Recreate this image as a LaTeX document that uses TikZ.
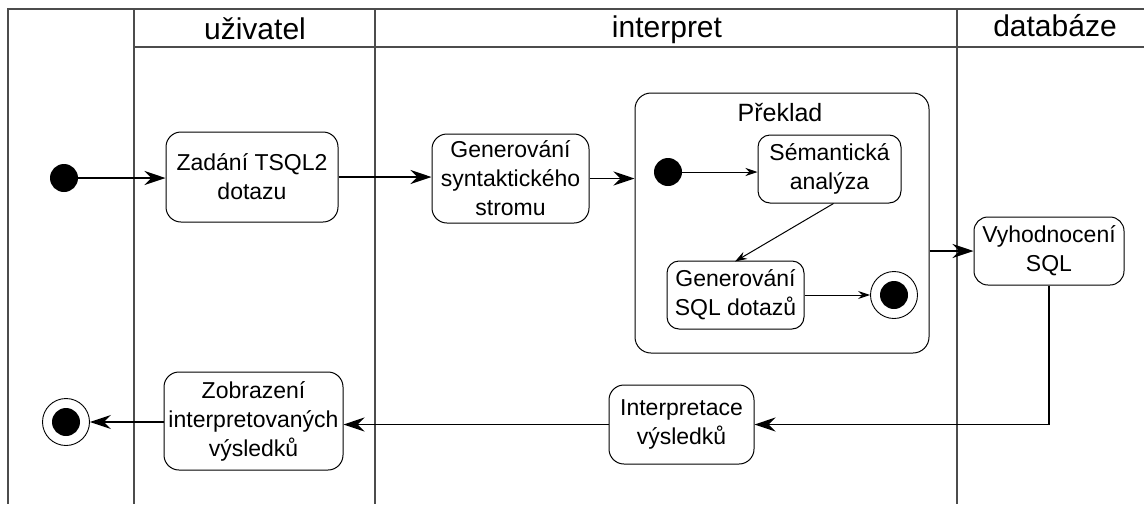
\documentclass[tikz,border=0pt]{standalone}
\usepackage{fontspec}
\setmainfont{Liberation Sans}
\usetikzlibrary{arrows.meta}
\begin{document}
\begin{tikzpicture}[x=1pt,y=-1pt,
  lane/.style={draw=black!70,line width=1.1pt},
  act/.style={draw,line width=1pt,rounded corners=15pt,align=center,inner sep=0pt,
    font=\fontsize{23}{29}\selectfont},
  inact/.style={act,rounded corners=12pt},
  hdr/.style={anchor=base,font=\fontsize{30}{30}\selectfont,inner sep=0pt},
  startdot/.style={circle,fill=black,minimum size=28pt,inner sep=0pt},
  enddot/.style={circle,draw,line width=0.9pt,minimum size=47pt,inner sep=0pt,
    path picture={\fill[black] (path picture bounding box.center) circle[radius=14pt];}},
  flow/.style={line width=1.4pt,-{Stealth[length=21pt,width=14pt,inset=7pt]}},
  iflow/.style={line width=1pt,-{Stealth[length=12pt,width=8pt,inset=4pt]}}]
\useasboundingbox (0,0) rectangle (1144,504);
% swimlanes
\draw[lane] (1144,9) -- (8,9) -- (8,504);
\draw[lane] (134,9) -- (134,504);
\draw[lane] (375,9) -- (375,504);
\draw[lane] (957,9) -- (957,504);
\draw[lane] (134,47) -- (1144,47);
\node[hdr] (h1) at (255,39) {uživatel};
\node[hdr] (h2) at (667,37) {interpret};
\node[hdr] (h3) at (1055,36) {databáze};
% nodes
\node[startdot] (s0) at (64,178) {};
\node[act,minimum width=172pt,minimum height=90pt] (zad) at (252,177) {Zadání TSQL2\\dotazu};
\node[act,minimum width=157pt,minimum height=89pt] (gen) at (510.5,178.5) {Generování\\syntaktického\\stromu};
\node[draw,line width=1pt,rounded corners=16pt,minimum width=294pt,minimum height=260pt,inner sep=0pt] (prek) at (782,223) {};
\node[anchor=base,font=\fontsize{25}{25}\selectfont,inner sep=0pt] (prekt) at (780,121) {Překlad};
\node[startdot] (s1) at (668,172) {};
\node[inact,minimum width=143pt,minimum height=68pt] (sem) at (829.5,169) {Sémantická\\analýza};
\node[inact,minimum width=137pt,minimum height=68pt] (gsql) at (735.5,295) {Generování\\SQL dotazů};
\node[enddot] (e1) at (894,295) {};
\node[act,rounded corners=14pt,minimum width=150pt,minimum height=68pt] (vyh) at (1049,251) {Vyhodnocení\\SQL};
\node[act,minimum width=145pt,minimum height=79pt] (int) at (681.5,424.5) {Interpretace\\výsledků};
\node[act,minimum width=179pt,minimum height=98pt] (zob) at (253.5,421) {Zobrazení\\interpretovaných\\výsledků};
\node[enddot] (e0) at (66,422) {};
% connectors
\draw[flow] (s0) -- (zad.west |- s0);
\draw[flow] (zad.east) -- (gen.west |- zad.east);
\draw[flow] (gen.east) -- (prek.west |- gen.east);
\draw[iflow] (s1) -- (sem.west |- s1);
\draw[iflow] (sem.south) ++(4,0) coordinate (sb) -- (735,261.5);
\draw[iflow] (gsql.east) -- (e1);
\draw[flow] (prek.east |- vyh.west) -- (vyh.west);
\draw[flow] (vyh.south) |- (int.east);
\draw[flow] (int.west) -- (zob.east |- int.west);
\draw[flow] (zob.west |- e0) -- (e0);
\end{tikzpicture}
\end{document}
